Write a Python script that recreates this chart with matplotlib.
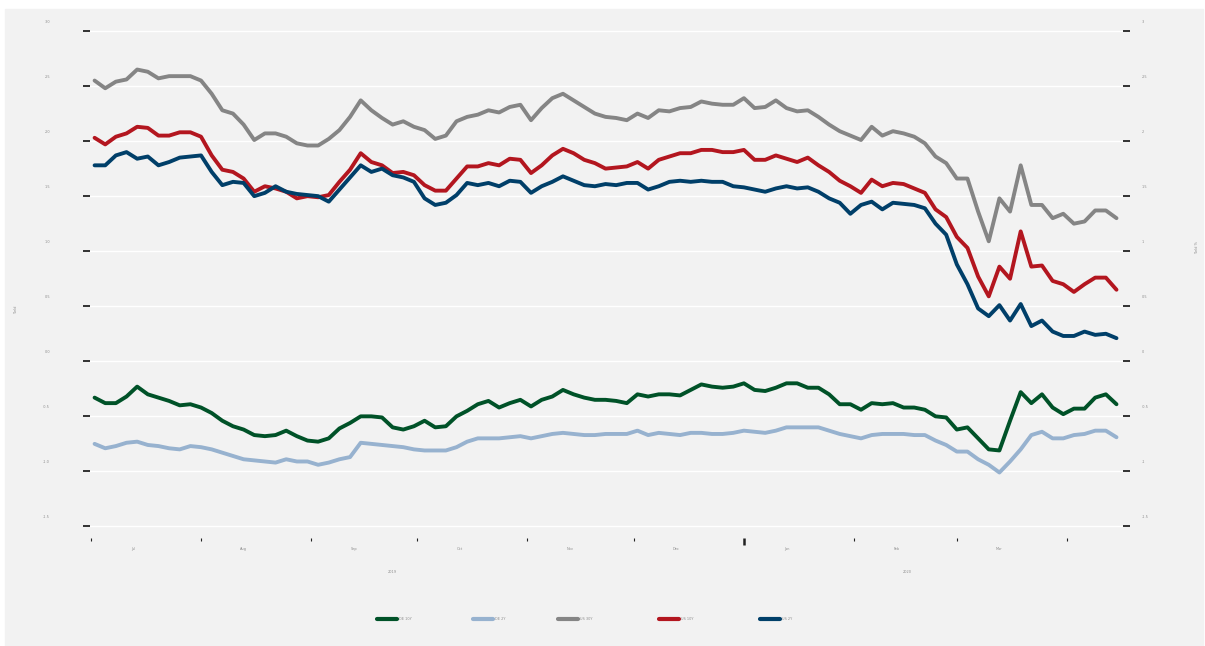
import pandas as pd
import matplotlib
matplotlib.use("Agg")
import matplotlib.pyplot as plt
from matplotlib.patches import Rectangle
from matplotlib.transforms import blended_transform_factory

# 数据：每3天一个点，2019-07-02 ~ 2020-04-14
dates = pd.date_range("2019-07-02", periods=97, freq="3D")

de_10y = [-0.33, -0.38, -0.38, -0.32, -0.23, -0.30, -0.33, -0.36, -0.40, -0.39, -0.42, -0.47,
          -0.54, -0.59, -0.62, -0.67, -0.68, -0.67, -0.63, -0.68, -0.72, -0.73, -0.70, -0.61,
          -0.56, -0.50, -0.50, -0.51, -0.60, -0.62, -0.59, -0.54, -0.60,
          -0.59, -0.50, -0.45, -0.39, -0.36, -0.42, -0.38, -0.35, -0.41, -0.35, -0.32, -0.26,
          -0.30, -0.33, -0.35, -0.35, -0.36, -0.38, -0.30, -0.32, -0.30, -0.30, -0.31, -0.26,
          -0.21, -0.23, -0.24, -0.23, -0.20, -0.26, -0.27, -0.24, -0.20,
          -0.20, -0.24, -0.24, -0.30, -0.39, -0.39, -0.44, -0.38, -0.39, -0.38, -0.42, -0.42,
          -0.44, -0.50, -0.51, -0.62, -0.60, -0.70, -0.80, -0.81, -0.54, -0.28, -0.38, -0.30,
          -0.42, -0.48, -0.43, -0.43, -0.33, -0.30, -0.39]
de_2y = [-0.75, -0.79, -0.77, -0.74, -0.73, -0.76, -0.77, -0.79, -0.80, -0.77, -0.78, -0.80,
         -0.83, -0.86, -0.89, -0.90, -0.91, -0.92, -0.89, -0.91, -0.91, -0.94, -0.92, -0.89,
         -0.87, -0.74, -0.75, -0.76, -0.77, -0.78, -0.80, -0.81, -0.81,
         -0.81, -0.78, -0.73, -0.70, -0.70, -0.70, -0.69, -0.68, -0.70, -0.68, -0.66, -0.65,
         -0.66, -0.67, -0.67, -0.66, -0.66, -0.66, -0.63, -0.67, -0.65, -0.66, -0.67, -0.65,
         -0.65, -0.66, -0.66, -0.65, -0.63, -0.64, -0.65, -0.63, -0.60,
         -0.60, -0.60, -0.60, -0.63, -0.66, -0.68, -0.70, -0.67, -0.66, -0.66, -0.66, -0.67,
         -0.67, -0.72, -0.76, -0.82, -0.82, -0.89, -0.94, -1.01, -0.91, -0.80, -0.67, -0.64,
         -0.70, -0.70, -0.67, -0.66, -0.63, -0.63, -0.69]
us_30y = [2.55, 2.48, 2.54, 2.56, 2.65, 2.63, 2.57, 2.59, 2.59, 2.59, 2.55, 2.43,
          2.28, 2.25, 2.15, 2.01, 2.07, 2.07, 2.04, 1.98, 1.96, 1.96, 2.02, 2.10,
          2.22, 2.37, 2.28, 2.21, 2.15, 2.18, 2.13, 2.10, 2.02,
          2.05, 2.18, 2.22, 2.24, 2.28, 2.26, 2.31, 2.33, 2.19, 2.30, 2.39, 2.43,
          2.37, 2.31, 2.25, 2.22, 2.21, 2.19, 2.25, 2.21, 2.28, 2.27, 2.30, 2.31,
          2.36, 2.34, 2.33, 2.33, 2.39, 2.30, 2.31, 2.37, 2.30,
          2.27, 2.28, 2.22, 2.15, 2.09, 2.05, 2.01, 2.13, 2.05, 2.09, 2.07, 2.04,
          1.98, 1.86, 1.80, 1.66, 1.66, 1.36, 1.09, 1.48, 1.36, 1.78, 1.42, 1.42,
          1.30, 1.34, 1.25, 1.27, 1.37, 1.37, 1.30]
us_10y = [2.03, 1.97, 2.04, 2.07, 2.13, 2.12, 2.05, 2.05, 2.08, 2.08, 2.04, 1.87,
          1.74, 1.72, 1.66, 1.54, 1.59, 1.57, 1.54, 1.48, 1.50, 1.49, 1.51, 1.63,
          1.74, 1.89, 1.81, 1.78, 1.71, 1.72, 1.69, 1.60, 1.55,
          1.55, 1.66, 1.77, 1.77, 1.80, 1.78, 1.84, 1.83, 1.71, 1.78, 1.87, 1.93,
          1.89, 1.83, 1.80, 1.75, 1.76, 1.77, 1.81, 1.75, 1.83, 1.86, 1.89, 1.89,
          1.92, 1.92, 1.90, 1.90, 1.92, 1.83, 1.83, 1.87, 1.84,
          1.81, 1.85, 1.78, 1.72, 1.64, 1.59, 1.53, 1.65, 1.59, 1.62, 1.61, 1.57,
          1.53, 1.38, 1.31, 1.13, 1.03, 0.77, 0.59, 0.86, 0.75, 1.18, 0.86, 0.87,
          0.73, 0.70, 0.63, 0.70, 0.76, 0.76, 0.65]
us_2y = [1.78, 1.78, 1.87, 1.90, 1.84, 1.86, 1.78, 1.81, 1.85, 1.86, 1.87, 1.72,
         1.60, 1.63, 1.62, 1.50, 1.53, 1.59, 1.54, 1.52, 1.51, 1.50, 1.45, 1.56,
         1.67, 1.78, 1.72, 1.75, 1.69, 1.67, 1.63, 1.48, 1.42,
         1.44, 1.51, 1.62, 1.60, 1.62, 1.59, 1.64, 1.63, 1.53, 1.59, 1.63, 1.68,
         1.64, 1.60, 1.59, 1.61, 1.60, 1.62, 1.62, 1.56, 1.59, 1.63, 1.64, 1.63,
         1.64, 1.63, 1.63, 1.59, 1.58, 1.56, 1.54, 1.57, 1.59,
         1.57, 1.58, 1.54, 1.48, 1.44, 1.34, 1.42, 1.45, 1.38, 1.44, 1.43, 1.42,
         1.39, 1.25, 1.15, 0.88, 0.70, 0.48, 0.41, 0.51, 0.37, 0.52, 0.32, 0.37,
         0.27, 0.23, 0.23, 0.27, 0.24, 0.25, 0.21]

series = [de_10y, de_2y, us_30y, us_10y, us_2y]
series_names = ["DE 10Y", "DE 2Y", "US 30Y", "US 10Y", "US 2Y"]
colors = ["#005228", "#97b2cf", "#858585", "#b3161f", "#003f69"]

y_ticks = [3.0, 2.5, 2.0, 1.5, 1.0, 0.5, 0.0, -0.5, -1.0, -1.5]
y_tick_labels = ["3.0", "2.5", "2.0", "1.5", "1.0", "0.5", "0.0", "-0.5", "-1.0", "-1.5"]
month_ticks = pd.date_range("2019-07-01", "2020-04-01", freq="MS")
month_labels = [d.strftime("%b") for d in month_ticks[:-1]]
year_labels = ["2019", "2020"]
year_label_pos = [pd.Timestamp("2019-09-24"), pd.Timestamp("2020-02-16")]

BG = "#f2f2f2"
LABEL_C = "#8c8c8c"
FS = 2.5

fig = plt.figure(figsize=(12.05, 6.46), dpi=100, facecolor="white")
fig.patches.append(Rectangle((5 / 1205, 0), 1198 / 1205, 637 / 646,
                             transform=fig.transFigure, color=BG, zorder=-10))
ax = fig.add_axes([90 / 1205, 108 / 646, 1033 / 1205, 518 / 646])
ax.set_facecolor(BG)
for s in ax.spines.values():
    s.set_visible(False)

lines = []
for vals, name, c in zip(series, series_names, colors):
    ln, = ax.plot(dates, vals, color=c, lw=2.8, label=name, solid_capstyle="round")
    lines.append(ln)

ax.set_ylim(-1.605, 3.1)
ax.set_xlim(pd.Timestamp("2019-06-30 17:00"), pd.Timestamp("2020-04-16 20:00"))
ax.set_yticks(y_ticks)
ax.yaxis.set_ticks_position("both")
ax.yaxis.grid(True, color="white", lw=1.0)
ax.set_axisbelow(True)
ax.tick_params(axis="y", direction="out", length=5, width=1.3, color="#222222",
               labelleft=False, labelright=False)

ax.set_xticks(month_ticks)
ax.tick_params(axis="x", direction="out", length=2.5, width=0.8, color="#222222",
               labelbottom=False)
jan = ax.xaxis.get_major_ticks()[6]
jan.tick1line.set_markersize(5)
jan.tick1line.set_markeredgewidth(1.8)

# 手动标签
ty = blended_transform_factory(ax.transAxes, ax.transData)
for v, lab in zip(y_ticks, y_tick_labels):
    ax.text(-0.0387, v + 0.085, lab, transform=ty, ha="right", va="center",
            fontsize=FS, color=LABEL_C)
    ax.text(1.018, v + 0.085, lab.replace(".0", ""), transform=ty, ha="left",
            va="center", fontsize=FS, color=LABEL_C)

tx = blended_transform_factory(ax.transData, ax.transAxes)
for d, lab in zip(month_ticks[:-1], month_labels):
    ax.text(d + pd.Timedelta(days=12), -0.021, lab, transform=tx, ha="center",
            va="center", fontsize=FS, color=LABEL_C)
for d, lab in zip(year_label_pos, year_labels):
    ax.text(d, -0.0656, lab, transform=tx, ha="center", va="center",
            fontsize=FS, color=LABEL_C)

fig.text(16 / 1205, 1 - 310 / 646, "Yield", rotation=90, ha="center", va="center",
         fontsize=FS, color=LABEL_C)
fig.text(1197 / 1205, 1 - 248 / 646, "Yield %", rotation=90, ha="center", va="center",
         fontsize=FS, color=LABEL_C)

# 图例：逐项放置
legend_x = [377, 473, 558, 659, 760]
for ln, x0 in zip(lines, legend_x):
    leg = fig.legend(handles=[ln], loc="center left",
                     bbox_to_anchor=(x0 / 1205, 1 - 619 / 646), frameon=False,
                     prop={"size": FS}, handlelength=5.8, handletextpad=0.6,
                     borderpad=0, borderaxespad=0)
    for l in leg.get_lines():
        l.set_linewidth(3)
    for t in leg.get_texts():
        t.set_color(LABEL_C)

fig.savefig("out.png", dpi=100, facecolor="white")
